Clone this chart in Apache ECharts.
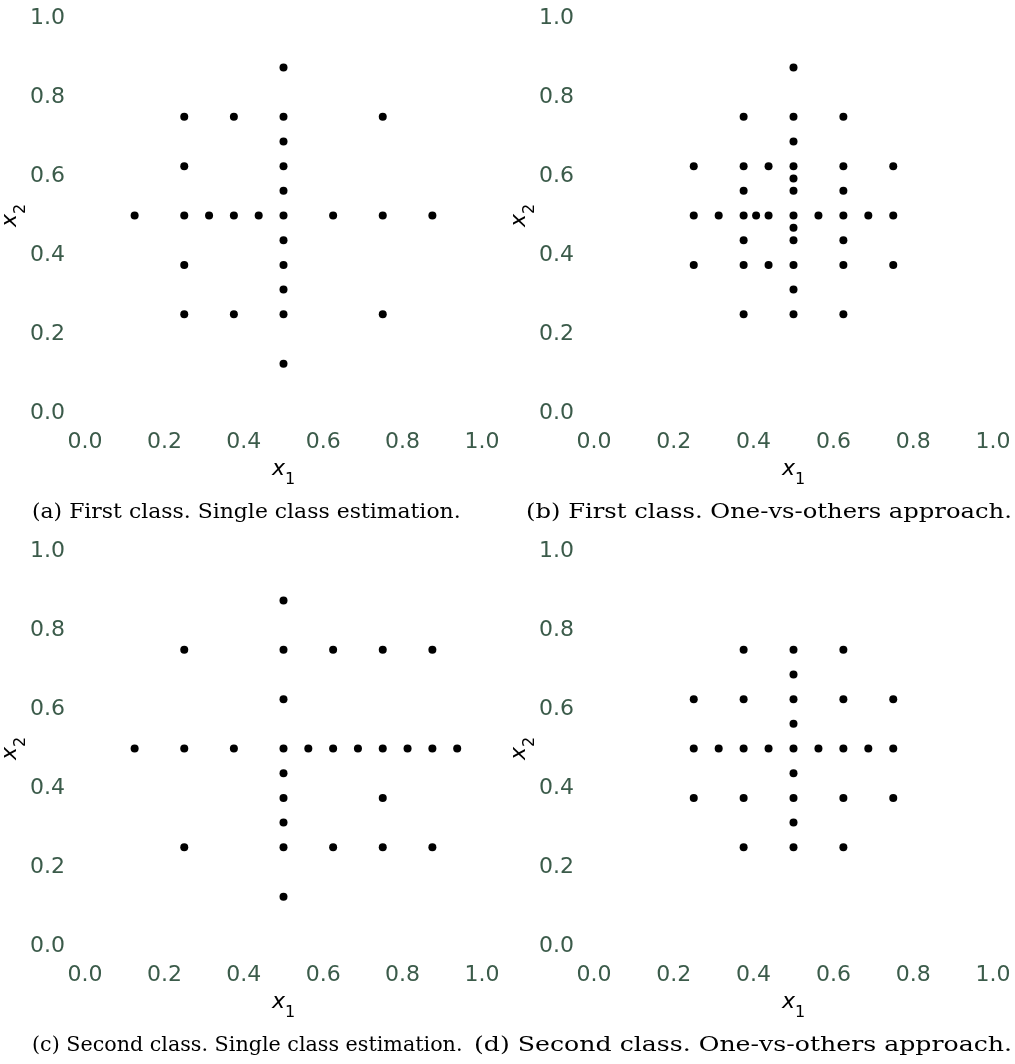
<!DOCTYPE html>
<html>
<head>
<meta charset="utf-8">
<script src="https://cdn.jsdelivr.net/npm/echarts@6/dist/echarts.min.js"></script>
<style>html,body{margin:0;padding:0;background:#fff;}#c{width:1015px;height:1064px;}</style>
</head>
<body>
<div id="c"></div>
<script>
// Panel (a): First class, single class estimation
const aX = [0.5, 0.25,0.375,0.5,0.75, 0.5, 0.25,0.5, 0.5, 0.125,0.25,0.3125,0.375,0.4375,0.5,0.625,0.75,0.875, 0.5, 0.25,0.5, 0.5, 0.25,0.375,0.5,0.75, 0.5];
const aY = [0.875, 0.75,0.75,0.75,0.75, 0.6875, 0.625,0.625, 0.5625, 0.5,0.5,0.5,0.5,0.5,0.5,0.5,0.5,0.5, 0.4375, 0.375,0.375, 0.3125, 0.25,0.25,0.25,0.25, 0.125];
// Panel (b): First class, one-vs-others
const bX = [0.5, 0.375,0.5,0.625, 0.5, 0.25,0.375,0.4375,0.5,0.625,0.75, 0.5, 0.375,0.5,0.625, 0.25,0.3125,0.375,0.40625,0.4375,0.5,0.5625,0.625,0.6875,0.75, 0.5, 0.375,0.5,0.625, 0.25,0.375,0.4375,0.5,0.625,0.75, 0.5, 0.375,0.5,0.625];
const bY = [0.875, 0.75,0.75,0.75, 0.6875, 0.625,0.625,0.625,0.625,0.625,0.625, 0.59375, 0.5625,0.5625,0.5625, 0.5,0.5,0.5,0.5,0.5,0.5,0.5,0.5,0.5,0.5, 0.46875, 0.4375,0.4375,0.4375, 0.375,0.375,0.375,0.375,0.375,0.375, 0.3125, 0.25,0.25,0.25];
// Panel (c): Second class, single class estimation
const cX = [0.5, 0.25,0.5,0.625,0.75,0.875, 0.5, 0.125,0.25,0.375,0.5,0.5625,0.625,0.6875,0.75,0.8125,0.875,0.9375, 0.5, 0.5,0.75, 0.5, 0.25,0.5,0.625,0.75,0.875, 0.5];
const cY = [0.875, 0.75,0.75,0.75,0.75,0.75, 0.625, 0.5,0.5,0.5,0.5,0.5,0.5,0.5,0.5,0.5,0.5,0.5, 0.4375, 0.375,0.375, 0.3125, 0.25,0.25,0.25,0.25,0.25, 0.125];
// Panel (d): Second class, one-vs-others
const dX = [0.375,0.5,0.625, 0.5, 0.25,0.375,0.5,0.625,0.75, 0.5, 0.25,0.3125,0.375,0.4375,0.5,0.5625,0.625,0.6875,0.75, 0.5, 0.25,0.375,0.5,0.625,0.75, 0.5, 0.375,0.5,0.625];
const dY = [0.75,0.75,0.75, 0.6875, 0.625,0.625,0.625,0.625,0.625, 0.5625, 0.5,0.5,0.5,0.5,0.5,0.5,0.5,0.5,0.5, 0.4375, 0.375,0.375,0.375,0.375,0.375, 0.3125, 0.25,0.25,0.25];

const tickLabels = ['0.0','0.2','0.4','0.6','0.8','1.0'];
const captions = [
  '(a) First class. Single class estimation.',
  '(b) First class. One-vs-others approach.',
  '(c) Second class. Single class estimation.',
  '(d) Second class. One-vs-others approach.'
];

const panels = [[aX,aY],[bX,bY],[cX,cY],[dX,dY]];
const grids = [
  {left:85, top:18, width:397, height:395, outerBoundsMode:'none', containLabel:false},
  {left:594, top:18, width:399, height:395, outerBoundsMode:'none', containLabel:false},
  {left:85, top:551, width:397, height:395, outerBoundsMode:'none', containLabel:false},
  {left:594, top:551, width:399, height:395, outerBoundsMode:'none', containLabel:false}
];
const labColor = '#3b5b4a';
const tickFmt = v => tickLabels[Math.round(v*5)];
const nameRich = {
  i:{fontFamily:'DejaVu Sans', fontStyle:'italic', fontSize:22, color:'#000', lineHeight:22, verticalAlign:'top'},
  s:{fontFamily:'DejaVu Sans', fontSize:16, color:'#000', lineHeight:30, verticalAlign:'bottom'}
};
const xAxes = [], yAxes = [], series = [];
panels.forEach((p, k) => {
  xAxes.push({gridIndex:k, type:'value', min:0, max:1, interval:0.2,
    axisLine:{show:false}, axisTick:{show:false}, splitLine:{show:false},
    axisLabel:{formatter:tickFmt, color:labColor, fontFamily:'DejaVu Sans', fontSize:22, margin:18},
    name:'{i|x}{s|1}', nameLocation:'middle', nameGap:45, nameTextStyle:{rich:nameRich}});
  yAxes.push({gridIndex:k, type:'value', min:0, max:1, interval:0.2,
    axisLine:{show:false}, axisTick:{show:false}, splitLine:{show:false},
    axisLabel:{formatter:tickFmt, color:labColor, fontFamily:'DejaVu Sans', fontSize:22, margin:20},
    name:'{i|x}{s|2}', nameLocation:'middle', nameRotate:90, nameGap:56, nameMoveOverlap:false,
    nameTextStyle:{rich:nameRich}});
  series.push({type:'scatter', xAxisIndex:k, yAxisIndex:k, symbol:'circle', symbolSize:8,
    itemStyle:{color:'#000', opacity:1}, silent:true,
    data:p[0].map((x,i)=>[x,p[1][i]])});
});
// left edge, vertical middle, horizontal stretch of each caption
const capPos = [[32,513,1.044],[526,513,1.155],[32,1046,0.984],[474,1046,1.2]];
const graphic = captions.map((t,i)=>({type:'text', x:capPos[i][0], y:capPos[i][1], scaleX:capPos[i][2], scaleY:1,
  style:{text:t, fontFamily:'DejaVu Serif', fontSize:21, fill:'#000', textAlign:'left', textVerticalAlign:'middle'}}));

const chart = echarts.init(document.getElementById('c'), null, {renderer:'canvas'});
chart.setOption({animation:false, backgroundColor:'#fff', grid:grids, xAxis:xAxes, yAxis:yAxes, series:series, graphic:graphic});
</script>
</body>
</html>
